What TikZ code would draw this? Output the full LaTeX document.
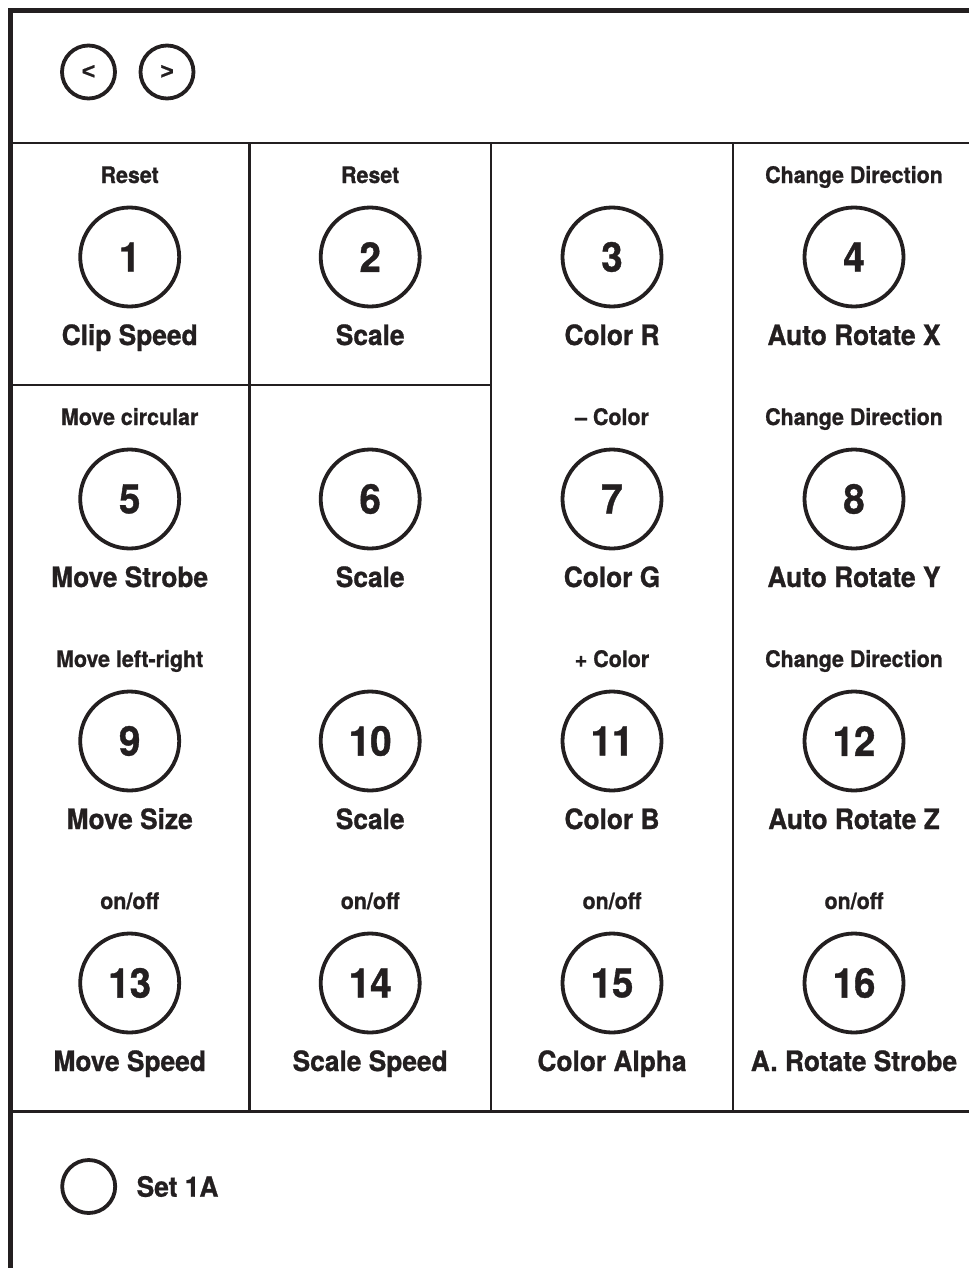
\documentclass[tikz,border=0pt]{standalone}
\usepackage{fontspec}
\newfontfamily\herosbold[FakeStretch=0.94,FakeBold=0.9]{texgyreheros-bold.otf}
\newfontfamily\arrowfont[FakeBold=0.8]{Liberation Sans Bold}
\definecolor{ink}{HTML}{231F20}
\tikzset{
  frameline/.style={draw=ink, line width=5pt, line join=miter},
  gridline/.style={draw=ink, line width=2.5pt},
  knob/.style={circle, draw=ink, line width=3.8pt, minimum size=99pt, inner sep=0pt,
    font=\herosbold\fontsize{41}{41}\selectfont, text=ink},
  smallknob/.style={circle, draw=ink, line width=3.8pt, minimum size=53pt, inner sep=0pt,
    font=\arrowfont\fontsize{23}{23}\selectfont, text=ink},
  toplabel/.style={anchor=base, inner sep=0pt, text=ink,
    font=\herosbold\fontsize{22.8}{24}\selectfont},
  botlabel/.style={anchor=base, inner sep=0pt, text=ink,
    font=\herosbold\fontsize{28}{30}\selectfont},
}
\newcommand\pcell[6]{%
  \node[knob] (c#1) at (#2,#3+114) {#5};
  \node[botlabel] (b#1) at (#2,#3+202) {#6};
  \if\relax\detokenize{#4}\relax\else\node[toplabel] (t#1) at (#2,#3+40) {#4};\fi
}
\begin{document}
\begin{tikzpicture}[x=1pt,y=-1pt]
\useasboundingbox (0,0) rectangle (969,1268);
% frame
\draw[frameline] (969,10.5) -- (10,10.5) -- (10,1268);
% grid
\draw[gridline] (10,143) -- (969,143);
\draw[gridline] (10,1111.5) -- (969,1111.5);
\draw[gridline] (10,385) -- (491,385);
\draw[gridline] (249.5,143) -- (249.5,1111.5);
\draw[gridline] (491,143) -- (491,1111.5);
\draw[gridline] (733,143) -- (733,1111.5);
% navigation
\node[smallknob] (prev) at (88.5,72) {<};
\node[smallknob] (next) at (167,72) {>};
% cells
\pcell{1}{129.7}{143}{Reset}{1}{Clip Speed}
\pcell{2}{370.2}{143}{Reset}{2}{Scale}
\pcell{3}{612}{143}{}{3}{Color R}
\pcell{4}{854}{143}{Change Direction}{4}{Auto Rotate X}
\pcell{5}{129.7}{385}{Move circular}{5}{Move Strobe}
\pcell{6}{370.2}{385}{}{6}{Scale}
\pcell{7}{612}{385}{– Color}{7}{Color G}
\pcell{8}{854}{385}{Change Direction}{8}{Auto Rotate Y}
\pcell{9}{129.7}{627}{Move left-right}{9}{Move Size}
\pcell{10}{370.2}{627}{}{10}{Scale}
\pcell{11}{612}{627}{+ Color}{11}{Color B}
\pcell{12}{854}{627}{Change Direction}{12}{Auto Rotate Z}
\pcell{13}{129.7}{869}{on/off}{13}{Move Speed}
\pcell{14}{370.2}{869}{on/off}{14}{Scale Speed}
\pcell{15}{612}{869}{on/off}{15}{Color Alpha}
\pcell{16}{854}{869}{on/off}{16}{A. Rotate Strobe}
% set
\node[smallknob] (set) at (88.7,1186.5) {};
\node[anchor=west, inner sep=0pt, text=ink, font=\herosbold\fontsize{28}{30}\selectfont] (setlabel) at (136.5,1186.5) {Set 1A};
\end{tikzpicture}
\end{document}
